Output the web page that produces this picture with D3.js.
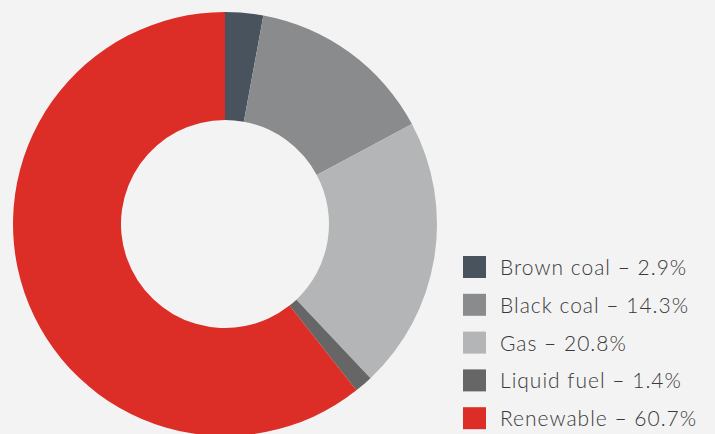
<!DOCTYPE html>
<html>
<head>
<meta charset="utf-8">
<script src="https://cdn.jsdelivr.net/npm/d3@7"></script>
<style>
  html, body { margin: 0; padding: 0; background: #f3f3f3; }
  svg { display: block; }
</style>
</head>
<body>
<svg width="715" height="434"></svg>
<script>
// fuel mix data
const categories = ["Brown coal", "Black coal", "Gas", "Liquid fuel", "Renewable"];
const shares = [2.9, 14.3, 20.8, 1.4, 60.7];
const colours = ["#48535e", "#8a8b8c", "#b4b5b6", "#666666", "#dc2e26"];

const svg = d3.select("svg");

const cx = 225, cy = 224;
const outerR = 212, innerR = 104;

const data = categories.map((c, i) => ({ name: c, value: shares[i], colour: colours[i] }));

const pie = d3.pie()
  .sort(null)
  .value(d => d.value);

const arc = d3.arc()
  .innerRadius(innerR)
  .outerRadius(outerR);

const g = svg.append("g").attr("transform", `translate(${cx},${cy})`);

g.selectAll("path")
  .data(pie(data))
  .enter().append("path")
  .attr("d", arc)
  .attr("fill", d => d.data.colour);

// legend
const legend = svg.append("g").attr("transform", "translate(463,256)");
const rowH = 37.8;

const rows = legend.selectAll(".row")
  .data(data)
  .enter().append("g")
  .attr("class", "row")
  .attr("transform", (d, i) => `translate(0,${i * rowH})`);

rows.append("rect")
  .attr("width", 23)
  .attr("height", 22)
  .attr("fill", d => d.colour);

rows.append("text")
  .attr("x", 37)
  .attr("y", 19)
  .attr("font-family", "Lato, 'Open Sans', sans-serif")
  .attr("font-weight", 300)
  .attr("font-size", 21)
  .attr("letter-spacing", 1)
  .attr("fill", "#3a3a3a")
  .text(d => `${d.name} – ${d.value}%`);
</script>
</body>
</html>
